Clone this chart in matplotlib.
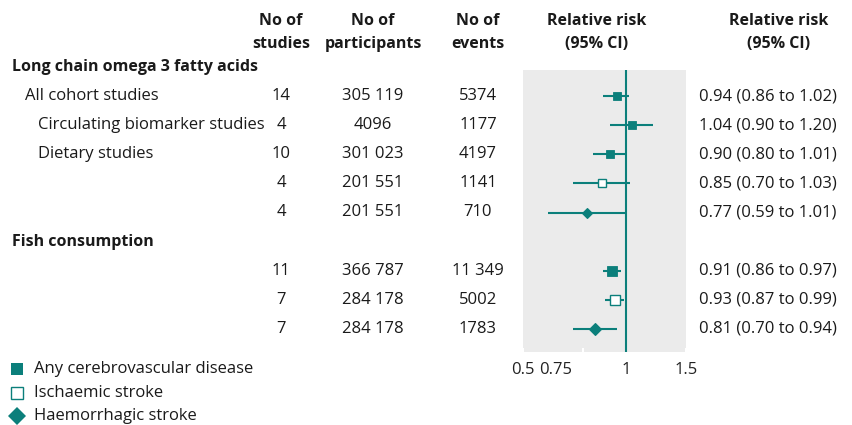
import matplotlib
matplotlib.use("Agg")
import matplotlib.pyplot as plt
from matplotlib.transforms import blended_transform_factory, ScaledTranslation

plt.rcParams['font.family'] = ['Open Sans', 'DejaVu Sans']

# rows of the table
groups = ["Long chain omega 3 fatty acids", "Fish consumption"]
row_labels = ["All cohort studies", "Circulating biomarker studies", "Dietary studies", "", "",
              "", "", ""]
row_indent = [1, 2, 2, 2, 2, 1, 1, 1]
n_studies = ["14", "4", "10", "4", "4", "11", "7", "7"]
n_participants = ["305 119", "4096", "301 023", "201 551", "201 551", "366 787", "284 178", "284 178"]
n_events = ["5374", "1177", "4197", "1141", "710", "11 349", "5002", "1783"]
rr = [0.94, 1.04, 0.90, 0.85, 0.77, 0.91, 0.93, 0.81]
ci_low = [0.86, 0.90, 0.80, 0.70, 0.59, 0.86, 0.87, 0.70]
ci_high = [1.02, 1.20, 1.01, 1.03, 1.01, 0.97, 0.99, 0.94]
outcome = ["any", "any", "any", "isch", "haem", "any", "isch", "haem"]
marker_px = [9, 8, 8, 8, 9, 10, 11, 11]   # marker width in pixels (study weight)
ticks = [0.5, 0.75, 1, 1.5]
tick_labels = ["0.5", "0.75", "1", "1.5"]
legend_labels = ["Any cerebrovascular disease", "Ischaemic stroke", "Haemorrhagic stroke"]

teal = "#0b7f7b"
grey = "#ebebeb"
W, H = 852, 425

# y positions (row units): group heading 0, rows 1-5, group heading 6, rows 7-9
group_y = [0, 6]
row_y = [1, 2, 3, 4, 5, 7, 8, 9]
step = 29.1   # px per row
y0 = 67       # px of row 0

fig = plt.figure(figsize=(W / 100, H / 100), dpi=100)
top, bottom = 0.1, 9.8
ax = fig.add_axes([523 / W, 1 - (y0 + bottom * step) / H, (686 - 523) / W, (bottom - top) * step / H])
ax.set_facecolor(grey)
ax.set_xscale("log")
ax.set_xlim(0.5, 1.5)
ax.set_ylim(bottom, top)
for s in ax.spines.values():
    s.set_visible(False)
ax.set_yticks([])
ax.set_xticks(ticks)
ax.set_xticks([], minor=True)
ax.tick_params(axis="x", which="major", direction="in", length=3, color="white", width=1.5, labelbottom=False)

ax.axvline(1, color=teal, lw=1.5, zorder=2)

for y, r, lo, hi, o, px in zip(row_y, rr, ci_low, ci_high, outcome, marker_px):
    ms = px * 0.72
    ax.plot([lo, hi], [y, y], color=teal, lw=1.5, solid_capstyle="butt", zorder=3)
    if o == "any":
        ax.plot(r, y, marker="s", ms=ms - 0.6, color=teal, mew=0.6, zorder=4)
    elif o == "isch":
        ax.plot(r, y, marker="s", ms=ms - 0.7, mfc="white", mec=teal, mew=1.0, zorder=4)
    else:
        ax.plot(r, y, marker="D", ms=ms / 1.3, color=teal, mew=0.8, zorder=4)

# tick labels (0.75 label pushed left, as in the original)
lab_tr = blended_transform_factory(ax.transData, ax.transAxes)
for t, lab in zip(ticks, tick_labels):
    dx = -28 / 100 if lab == "0.75" else 0
    ax.text(t, -0.035, lab, ha="center", va="top", fontsize=12, color="#222222",
            transform=lab_tr + ScaledTranslation(dx, 0, fig.dpi_scale_trans))

tr = blended_transform_factory(fig.transFigure, ax.transData)
fs = 12
fsb = 11.5
txt = "#1a1a1a"

def fx(px):
    return px / W

# column headers
hy1, hy2 = -1.58, -0.8
for x, l1, l2 in [(281, "No of", "studies"), (373, "No of", "participants"),
                  (478, "No of", "events"), (597, "Relative risk", "(95% CI)"),
                  (779, "Relative risk", "(95% CI)")]:
    fig.text(fx(x), hy1, l1, transform=tr, ha="center", va="center", fontsize=fsb, weight="bold", color=txt)
    fig.text(fx(x), hy2, l2, transform=tr, ha="center", va="center", fontsize=fsb, weight="bold", color=txt)

for g, y in zip(groups, group_y):
    fig.text(fx(12), y, g, transform=tr, ha="left", va="center", fontsize=fsb, weight="bold", color=txt)

for i, y in enumerate(row_y):
    x = 25 if row_indent[i] == 1 else 38
    fig.text(fx(x), y, row_labels[i], transform=tr, ha="left", va="center", fontsize=fs, color=txt)
    fig.text(fx(281), y, n_studies[i], transform=tr, ha="center", va="center", fontsize=fs, color=txt)
    fig.text(fx(373), y, n_participants[i], transform=tr, ha="center", va="center", fontsize=fs, color=txt)
    fig.text(fx(478), y, n_events[i], transform=tr, ha="center", va="center", fontsize=fs, color=txt)
    fig.text(fx(699), y, f"{rr[i]:.2f} ({ci_low[i]:.2f} to {ci_high[i]:.2f})", transform=tr,
             ha="left", va="center", fontsize=fs, color=txt)

# legend
leg_y = [(369 - y0) / step, (393 - y0) / step, (416 - y0) / step]
leg_styles = [dict(marker="s", ms=8.5, color=teal, mew=0),
              dict(marker="s", ms=8, mfc="white", mec=teal, mew=1),
              dict(marker="D", ms=9, color=teal, mew=0)]
for y, lab, st in zip(leg_y, legend_labels, leg_styles):
    fig.lines.append(plt.Line2D([fx(17)], [y], transform=tr, ls="none", **st))
    fig.text(fx(34), y, lab, transform=tr, ha="left", va="center", fontsize=fs, color=txt)

fig.savefig("out.png", dpi=100, facecolor="white")
